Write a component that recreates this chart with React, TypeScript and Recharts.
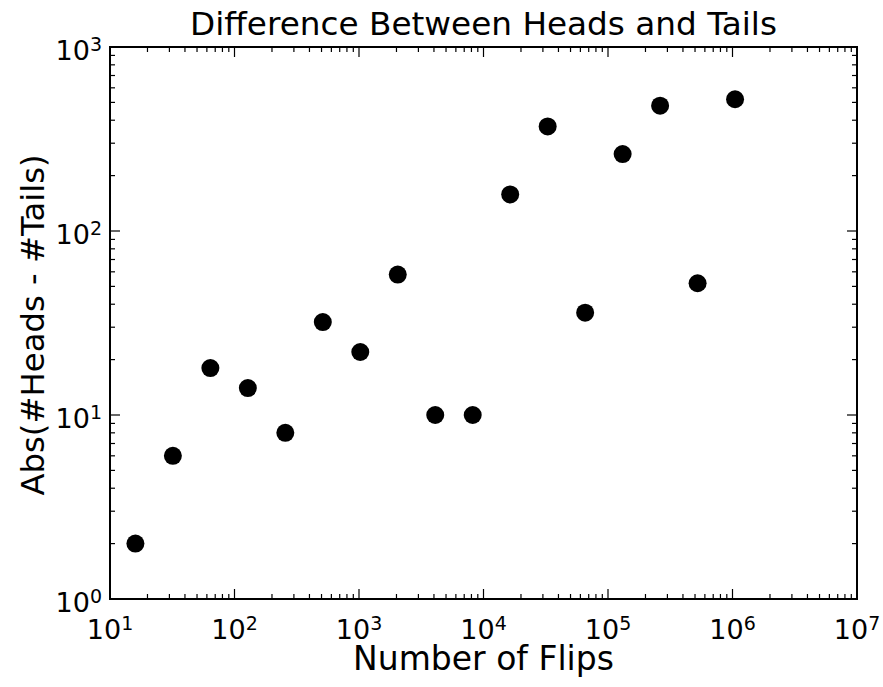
import { ScatterChart, Scatter, XAxis, YAxis, ReferenceArea } from 'recharts'

// number of flips (powers of two) and |heads - tails|
const FLIPS = [16, 32, 64, 128, 256, 512, 1024, 2048, 4096, 8192, 16384, 32768, 65536, 131072, 262144, 524288, 1048576]
const DIFFS = [2, 6, 18, 14, 8, 32, 22, 58, 10, 10, 158, 370, 36, 262, 480, 52, 520]
const X_EXPONENTS = [1, 2, 3, 4, 5, 6, 7]
const Y_EXPONENTS = [0, 1, 2, 3]
const MINOR_STEPS = [2, 3, 4, 5, 6, 7, 8, 9]

const W = 883
const H = 687
const PLOT_TOP = 47
const PLOT_RIGHT = 857
const FONT = '"DejaVu Sans", sans-serif'

const logTicks = (exps: number[]) => {
  const out: number[] = []
  exps.forEach((e, i) => {
    out.push(Math.pow(10, e))
    if (i < exps.length - 1) MINOR_STEPS.forEach(m => out.push(m * Math.pow(10, e)))
  })
  return out
}

const xTicks = logTicks(X_EXPONENTS)
const yTicks = logTicks(Y_EXPONENTS)
const data = FLIPS.map((f, i) => ({ flips: f, diff: DIFFS[i] }))

const isMajor = (v: number) => {
  const e = Math.round(Math.log10(v))
  return Math.abs(Math.pow(10, e) - v) < 1e-6 * v
}

const XTick = (props: any) => {
  const { x, y, payload } = props
  const v = payload.value
  const major = isMajor(v)
  const len = major ? 10 : 5
  return (
    <g>
      <line x1={x} x2={x} y1={y} y2={y - len} stroke="#000" strokeWidth={1.2} />
      <line x1={x} x2={x} y1={PLOT_TOP} y2={PLOT_TOP + len} stroke="#000" strokeWidth={1.2} />
      {major && (
        <text x={x} y={y + 40} textAnchor="middle" fontFamily={FONT} fontSize={27} fill="#000">
          10<tspan dy={-9} fontSize={19}>{Math.round(Math.log10(v))}</tspan>
        </text>
      )}
    </g>
  )
}

const YTick = (props: any) => {
  const { x, y, payload } = props
  const v = payload.value
  const major = isMajor(v)
  const len = major ? 10 : 5
  return (
    <g>
      <line x1={x} x2={x + len} y1={y} y2={y} stroke="#000" strokeWidth={1.2} />
      <line x1={PLOT_RIGHT - len} x2={PLOT_RIGHT} y1={y} y2={y} stroke="#000" strokeWidth={1.2} />
      {major && (
        <text x={x - 8} y={y + 13} textAnchor="end" fontFamily={FONT} fontSize={27} fill="#000">
          10<tspan dy={-9} fontSize={19}>{Math.round(Math.log10(v))}</tspan>
        </text>
      )}
    </g>
  )
}

export default function App() {
  return (
    <div style={{ position: 'absolute', left: 0, top: 0, width: W, height: H, background: '#fff' }}>
      <ScatterChart width={W} height={H} margin={{ top: PLOT_TOP, right: W - PLOT_RIGHT, bottom: 0, left: 0 }}>
        <XAxis
          type="number" dataKey="flips" scale="log" domain={[10, 1e7]} allowDataOverflow
          ticks={xTicks} interval={0} tick={<XTick />} tickLine={false} axisLine={false}
          tickSize={0} tickMargin={0} height={88}
        />
        <YAxis
          type="number" dataKey="diff" scale="log" domain={[1, 1000]} allowDataOverflow
          ticks={yTicks} interval={0} tick={<YTick />} tickLine={false} axisLine={false}
          tickSize={0} tickMargin={0} width={110}
        />
        <ReferenceArea x1={10} x2={1e7} y1={1} y2={1000} fill="none" stroke="#000" strokeWidth={2} />
        <Scatter
          data={data} isAnimationActive={false}
          shape={(p: any) => <circle cx={p.cx} cy={p.cy} r={9} fill="#000" />}
        />
      </ScatterChart>
      <svg width={W} height={H} style={{ position: 'absolute', left: 0, top: 0, pointerEvents: 'none' }}>
        <text x={483.5} y={35} textAnchor="middle" fontFamily={FONT} fontSize={32.7} fill="#000">
          Difference Between Heads and Tails
        </text>
        <text x={483.5} y={670} textAnchor="middle" fontFamily={FONT} fontSize={33} fill="#000">
          Number of Flips
        </text>
        <text x={44} y={325} textAnchor="middle" fontFamily={FONT} fontSize={32.3} fill="#000" transform="rotate(-90 44 325)">
          Abs(#Heads - #Tails)
        </text>
      </svg>
    </div>
  )
}
